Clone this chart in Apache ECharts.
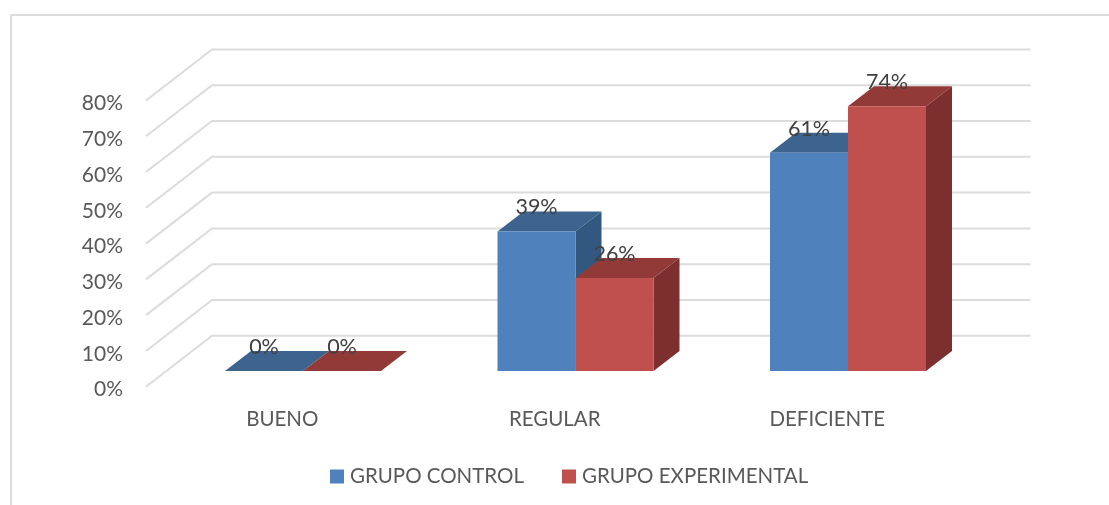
<!DOCTYPE html>
<html>
<head>
<meta charset="utf-8">
<style>
html, body { margin: 0; padding: 0; background: #fff; }
#main { width: 1109px; height: 505px; }
</style>
<script src="https://cdn.jsdelivr.net/npm/echarts@6/dist/echarts.min.js"></script>
</head>
<body>
<div id="main"></div>
<script>
var categories = ['BUENO', 'REGULAR', 'DEFICIENTE'];
var grupoControl = [0, 39, 61];
var grupoExperimental = [0, 26, 74];
var wallTicks = [0, 10, 20, 30, 40, 50, 60, 70, 80];

var textColor = '#595959';
var lineColor = '#DCDCDC';

// wall depth, bars stand part of the way into it
var wallDx = 66, wallDy = -51;
var floorDx = 20.75, floorDy = -15.7;
var barDx = 26, barDy = -20;
var barWidth = 78;

function wallItem(params, api) {
    var y = api.coord([0, api.value(0)])[1];
    var x = params.coordSys.x;
    var right = x + params.coordSys.width;
    return {
        type: 'polyline',
        silent: true,
        shape: {points: [[x, y], [x + wallDx, y + wallDy], [right + wallDx + 1, y + wallDy]]},
        style: {fill: null, stroke: lineColor, lineWidth: 2}
    };
}

function barRenderer(index, front, top, side) {
    return function (params, api) {
        var value = api.value(1);
        var head = api.coord([api.value(0), value]);
        var base = api.coord([api.value(0), 0]);
        var x0 = head[0] + floorDx + (index - 1) * barWidth;
        var x1 = x0 + barWidth;
        var y0 = head[1] + floorDy;
        var y1 = base[1] + floorDy;
        return {
            type: 'group',
            silent: true,
            children: [
                {
                    type: 'polygon',
                    shape: {points: [[x1, y0], [x1 + barDx, y0 + barDy], [x1 + barDx, y1 + barDy], [x1, y1]]},
                    style: {fill: side}
                },
                {
                    type: 'polygon',
                    shape: {points: [[x0, y0], [x0 + barDx, y0 + barDy], [x1 + barDx, y0 + barDy], [x1, y0]]},
                    style: {fill: top}
                },
                {
                    type: 'rect',
                    shape: {x: x0, y: y0, width: barWidth, height: y1 - y0},
                    style: {fill: front}
                },
                {
                    type: 'text',
                    z2: 10,
                    style: {
                        x: x0 + barWidth / 2,
                        y: y0 - 24,
                        text: value + '%',
                        fill: '#404040',
                        font: '21.5px Lato',
                        align: 'center',
                        verticalAlign: 'middle'
                    }
                }
            ]
        };
    };
}

function pairs(values) {
    return values.map(function (v, i) {
        return [i, v];
    });
}

var option = {
    animation: false,
    backgroundColor: '#fff',
    textStyle: {fontFamily: 'Lato'},
    graphic: [{
        type: 'polyline',
        silent: true,
        shape: {points: [[11, 505], [11, 15], [1109, 15]]},
        style: {fill: null, stroke: lineColor, lineWidth: 2}
    }],
    grid: {left: 146, top: 100.5, width: 817.5, height: 286.2},
    legend: {
        data: ['GRUPO CONTROL', 'GRUPO EXPERIMENTAL'],
        left: 330,
        top: 466,
        padding: 0,
        icon: 'rect',
        itemWidth: 14,
        itemHeight: 14,
        itemGap: 38,
        selectedMode: false,
        textStyle: {color: textColor, fontSize: 20.5, fontFamily: 'Lato', padding: [0, 0, 0, 1]}
    },
    xAxis: {
        type: 'category',
        data: categories,
        axisLine: {show: false},
        axisTick: {show: false},
        axisLabel: {color: textColor, fontSize: 20.5, fontFamily: 'Lato', margin: 22}
    },
    yAxis: {
        type: 'value',
        min: 0,
        max: 80,
        interval: 10,
        axisLine: {show: false},
        axisTick: {show: false},
        splitLine: {show: false},
        // top aligned with a short line box puts the labels a little under the tick
        axisLabel: {color: textColor, fontSize: 21, fontFamily: 'Lato', margin: 23, verticalAlign: 'top', lineHeight: 6, formatter: '{value}%'}
    },
    series: [
        {
            name: 'pared',
            type: 'custom',
            renderItem: wallItem,
            data: wallTicks,
            encode: {y: 0},
            clip: false,
            z: 1
        },
        {
            name: 'GRUPO CONTROL',
            type: 'custom',
            renderItem: barRenderer(0, '#4F81BD', '#3D648F', '#335880'),
            itemStyle: {color: '#4F81BD'},
            data: pairs(grupoControl),
            encode: {x: 0, y: 1},
            clip: false,
            z: 2
        },
        {
            name: 'GRUPO EXPERIMENTAL',
            type: 'custom',
            renderItem: barRenderer(1, '#C0504D', '#913A38', '#7C2F2E'),
            itemStyle: {color: '#C0504D'},
            data: pairs(grupoExperimental),
            encode: {x: 0, y: 1},
            clip: false,
            z: 3
        }
    ]
};

var myChart = echarts.init(document.getElementById('main'), null, {renderer: 'canvas'});
myChart.setOption(option);
</script>
</body>
</html>
